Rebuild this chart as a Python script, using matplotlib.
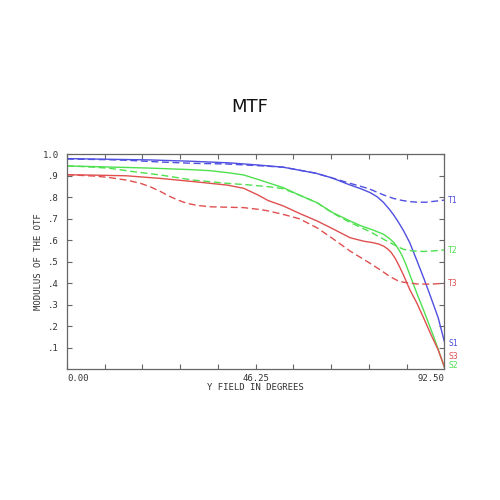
import matplotlib
matplotlib.use("Agg")
import matplotlib.pyplot as plt
import numpy as np

# ---- data ----
s1_x = [0, 10, 20, 30, 40, 47, 53, 61, 65, 69, 72, 74.3, 76, 77.6, 79, 80, 81, 82.5, 84, 85.8, 87.5, 89.1, 91, 92.5]
s1_y = [0.980, 0.977, 0.974, 0.968, 0.960, 0.950, 0.940, 0.912, 0.890, 0.860, 0.840, 0.822, 0.803, 0.776, 0.745, 0.720, 0.692, 0.645, 0.590, 0.505, 0.422, 0.340, 0.240, 0.130]

t1_x = [0, 10, 15, 23, 31, 39, 47, 53, 61, 65, 69.4, 74, 77.6, 80, 82, 84, 86, 88, 90.3, 92.5]
t1_y = [0.978, 0.975, 0.972, 0.964, 0.958, 0.955, 0.947, 0.940, 0.912, 0.890, 0.865, 0.840, 0.811, 0.795, 0.786, 0.780, 0.777, 0.777, 0.782, 0.787]

s2_x = [0, 10, 20, 30, 35, 40, 43.3, 47, 53, 57, 61.3, 65, 69.4, 72, 75, 77.6, 79.2, 80.2, 81, 82, 83, 84, 85, 86, 87.4, 89.9, 92.5]
s2_y = [0.946, 0.941, 0.936, 0.929, 0.924, 0.913, 0.904, 0.882, 0.845, 0.810, 0.775, 0.730, 0.690, 0.668, 0.648, 0.628, 0.606, 0.588, 0.567, 0.535, 0.492, 0.442, 0.392, 0.342, 0.276, 0.152, 0.012]

t2_x = [0, 5, 10.5, 16, 22.8, 31, 39.2, 45, 50, 53, 57, 61.3, 65, 69.4, 74.3, 77.6, 80.9, 82.5, 85, 87.4, 90, 92.5]
t2_y = [0.946, 0.942, 0.935, 0.920, 0.904, 0.880, 0.865, 0.857, 0.848, 0.840, 0.810, 0.775, 0.728, 0.683, 0.640, 0.605, 0.572, 0.558, 0.550, 0.548, 0.551, 0.555]

s3_x = [0, 7, 14.6, 22.8, 31, 39.2, 43.3, 46.9, 49.3, 53, 57, 61.3, 65, 69.4, 72.7, 75, 76.5, 77.6, 78.6, 79.5, 80.5, 81.5, 82.5, 84, 85.8, 87.4, 89.1, 91, 92.5]
s3_y = [0.905, 0.903, 0.900, 0.888, 0.873, 0.857, 0.842, 0.810, 0.785, 0.760, 0.725, 0.690, 0.655, 0.612, 0.596, 0.589, 0.582, 0.573, 0.560, 0.543, 0.515, 0.478, 0.438, 0.372, 0.307, 0.240, 0.167, 0.090, 0.012]

t3_x = [0, 6.5, 10, 14.6, 18, 20.4, 23, 25.3, 27.5, 29.4, 32, 35.1, 39, 43.3, 46.9, 49, 53.1, 57, 61.3, 65, 69.4, 74.3, 77, 79.2, 81, 82.5, 85.8, 89, 92.5]
t3_y = [0.905, 0.899, 0.893, 0.880, 0.865, 0.849, 0.826, 0.803, 0.785, 0.772, 0.762, 0.756, 0.754, 0.752, 0.744, 0.738, 0.720, 0.700, 0.658, 0.610, 0.550, 0.493, 0.460, 0.431, 0.413, 0.405, 0.397, 0.396, 0.400]

y_ticks = [0.1, 0.2, 0.3, 0.4, 0.5, 0.6, 0.7, 0.8, 0.9, 1.0]
y_tick_labels = [".1", ".2", ".3", ".4", ".5", ".6", ".7", ".8", ".9", "1.0"]
x_ticks = [0, 9.25, 18.5, 27.75, 37, 46.25, 55.5, 64.75, 74, 83.25, 92.5]
x_tick_labels = ["0.00", "46.25", "92.50"]
x_tick_label_pos = [0, 46.25, 92.5]

labels = ["T1", "T2", "T3", "S1", "S3", "S2"]
label_y = [0.787, 0.552, 0.398, 0.118, 0.058, 0.016]

BLUE = "#4f4fe0"
GREEN = "#4fe04f"
RED = "#e04f4f"
label_colors = [BLUE, GREEN, RED, BLUE, RED, GREEN]

mono = "DejaVu Sans Mono"
fig = plt.figure(figsize=(5, 5), dpi=100)
ax = fig.add_axes([0.134, 0.2614, 0.7546, 0.43])

dash = (5, 2.6)
ax.plot(s1_x, s1_y, color=BLUE, lw=1.0)
ax.plot(t1_x, t1_y, color=BLUE, lw=1.0, dashes=dash)
ax.plot(s2_x, s2_y, color=GREEN, lw=1.0)
ax.plot(t2_x, t2_y, color=GREEN, lw=1.0, dashes=dash)
ax.plot(s3_x, s3_y, color=RED, lw=1.0)
ax.plot(t3_x, t3_y, color=RED, lw=1.0, dashes=dash)

ax.set_xlim(0, 92.5)
ax.set_ylim(0, 1.0)

for sp in ax.spines.values():
    sp.set_color("#666666")
    sp.set_linewidth(0.9)

ax.set_yticks(y_ticks)
ax.set_yticklabels(y_tick_labels, fontfamily=mono, fontsize=6.5, color="#333333")
ax.set_xticks(x_ticks)
ax.set_xticklabels([])
ax.tick_params(axis="both", direction="in", length=3.5, width=0.8, color="#666666",
               top=True, right=True, pad=6)

for xv, lab, ha in zip(x_tick_label_pos, x_tick_labels, ["left", "center", "right"]):
    ax.text(xv, -0.02, lab, ha=ha, va="top", fontfamily=mono, fontsize=6.5,
            color="#333333", transform=ax.get_xaxis_transform())

ax.text(0.5, -0.065, "Y FIELD IN DEGREES", ha="center", va="top", fontfamily=mono,
        fontsize=6.5, color="#333333", transform=ax.transAxes)
ax.text(-0.075, 0.5, "MODULUS OF THE OTF", ha="center", va="center", rotation=90,
        fontfamily=mono, fontsize=6.5, color="#333333", transform=ax.transAxes)

for lab, yv, c in zip(labels, label_y, label_colors):
    ax.text(1.01, yv, lab, ha="left", va="center", fontfamily=mono, fontsize=5.8,
            color=c, transform=ax.get_yaxis_transform())

fig.text(0.5, 0.787, "MTF", ha="center", va="center", fontsize=13, color="#111111")

fig.savefig("out.png", dpi=100, facecolor="white")
